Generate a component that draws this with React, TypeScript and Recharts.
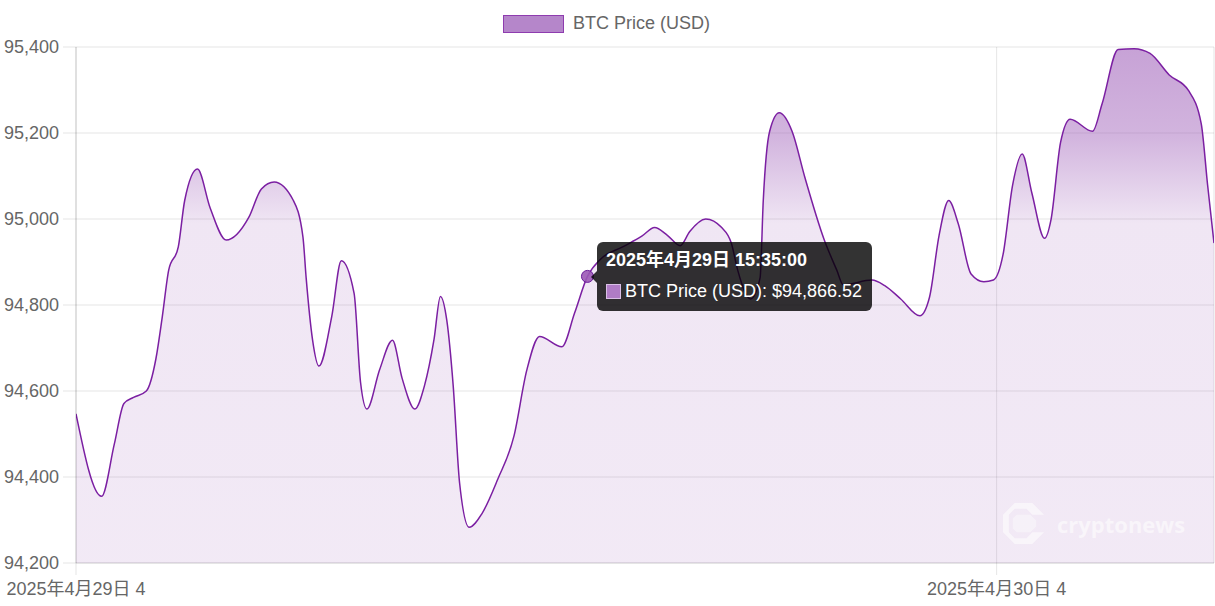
import React from 'react';
import { AreaChart, Area, XAxis, YAxis, CartesianGrid, Tooltip, Legend } from 'recharts';

// minutes since 2025-04-29 00:00
const minutes = [
  135, 175, 195, 210, 225, 245, 260, 270, 280, 295, 305, 325, 345, 370, 405, 425, 445, 475, 490, 495,
  505, 515, 535, 550, 570, 580, 590, 610, 630, 645, 665, 680, 695, 705, 715, 725, 735, 750, 770, 795,
  820, 840, 860, 895, 915, 935, 955, 990, 1020, 1040, 1060, 1080, 1095, 1120, 1145, 1160, 1170, 1190,
  1205, 1210, 1220, 1235, 1255, 1275, 1305, 1325, 1335, 1380, 1400, 1425, 1455, 1470, 1485, 1500, 1515,
  1535, 1555, 1570, 1585, 1600, 1615, 1630, 1650, 1660, 1675, 1690, 1725, 1740, 1765, 1790, 1815, 1845,
  1875, 1895, 1905, 1915,
];
const prices = [
  94547, 94355, 94477, 94571, 94585, 94600, 94675, 94773, 94881, 94935, 95043, 95116, 95025, 94951, 95003,
  95070, 95086, 95043, 94958, 94863, 94719, 94658, 94773, 94903, 94827, 94621, 94558, 94650, 94718, 94630,
  94558, 94612, 94720, 94820, 94764, 94612, 94386, 94283, 94315, 94396, 94495, 94648, 94727, 94703, 94782,
  94866.52, 94906, 94935, 94960, 94980, 94962, 94938, 94971, 95000, 94980, 94944, 94881, 94814, 94863, 95043,
  95204, 95247, 95204, 95097, 94953, 94881, 94847, 94858, 94845, 94814, 94775, 94818, 94962, 95043, 94989,
  94872, 94854, 94858, 94917, 95079, 95151, 95061, 94955, 94998, 95178, 95232, 95204, 95268, 95394, 95396,
  95385, 95335, 95299, 95222, 95079, 94944,
];
const yTicks = [94200, 94400, 94600, 94800, 95000, 95200, 95400];
const xTicks = [135, 1575];
const xTickLabels = ['2025年4月29日 4', '2025年4月30日 4'];
const seriesName = 'BTC Price (USD)';
const tooltipMinute = 935;

const data = minutes.map((t, i) => ({ t, price: prices[i] }));
const tooltipIndex = minutes.indexOf(tooltipMinute);

const FONT = '"Liberation Sans", Arial, Helvetica, "Noto Sans CJK SC", sans-serif';

const pad = (n: number) => (n < 10 ? '0' + n : '' + n);
const fmtTime = (t: number) => {
  const day = 29 + Math.floor(t / 1440);
  const m = t % 1440;
  return `2025年4月${day}日 ${pad(Math.floor(m / 60))}:${pad(m % 60)}:00`;
};

function TipContent(props: any) {
  const { active, payload } = props;
  if (!active || !payload || !payload.length) return null;
  const p = payload[0].payload;
  const val = '$' + p.price.toLocaleString('en-US', { minimumFractionDigits: 2, maximumFractionDigits: 2 });
  return (
    <div
      style={{
        position: 'relative',
        background: 'rgba(0,0,0,0.8)',
        borderRadius: 6,
        padding: '8px 10px 10px 9px',
        color: '#fff',
        fontFamily: FONT,
        fontSize: 18,
        whiteSpace: 'nowrap',
        lineHeight: '20px',
      }}
    >
      <div
        style={{
          position: 'absolute',
          left: -6,
          top: 'calc(50% - 6px)',
          width: 0,
          height: 0,
          borderTop: '6px solid transparent',
          borderBottom: '6px solid transparent',
          borderRight: '6px solid rgba(0,0,0,0.8)',
        }}
      />
      <div style={{ fontWeight: 'bold', marginBottom: 11 }}>{fmtTime(p.t)}</div>
      <div style={{ display: 'flex', alignItems: 'center' }}>
        <span
          style={{
            display: 'inline-block',
            width: 13,
            height: 13,
            background: '#b07cc6',
            border: '1.5px solid #d9bfe6',
            marginRight: 4,
          }}
        />
        <span>{`${seriesName}: ${val}`}</span>
      </div>
    </div>
  );
}

function LegendContent() {
  return (
    <div style={{ height: 40, paddingTop: 7, boxSizing: 'border-box', display: 'flex', justifyContent: 'center' }}>
      <div style={{ display: 'flex', alignItems: 'center', height: 19, marginRight: 1 }}>
        <span
          style={{
            display: 'inline-block',
            width: 59,
            height: 16,
            background: '#b586ca',
            border: '1.5px solid #8e3caf',
          }}
        />
        <span style={{ marginLeft: 9, fontSize: 18, color: '#666', fontFamily: FONT }}>{seriesName}</span>
      </div>
    </div>
  );
}

export default function App() {
  return (
    <div style={{ position: 'absolute', left: 0, top: 0, width: 1215, height: 606, fontFamily: FONT, background: '#fff' }}>
      <AreaChart width={1215} height={606} data={data} margin={{ top: 7, right: 1, bottom: 0, left: 0 }}>
        <defs>
          <linearGradient id="btcFill" x1="0" y1="0" x2="0" y2="1">
            <stop offset="0" stopColor="rgb(155,89,182)" stopOpacity={0.56} />
            <stop offset="0.17" stopColor="rgb(155,89,182)" stopOpacity={0.45} />
            <stop offset="0.34" stopColor="rgb(155,89,182)" stopOpacity={0.15} />
            <stop offset="1" stopColor="rgb(155,89,182)" stopOpacity={0.13} />
          </linearGradient>
        </defs>
        <Legend verticalAlign="top" align="center" content={<LegendContent />} />
        <CartesianGrid stroke="rgba(0,0,0,0.1)" strokeWidth={1} />
        <XAxis
          dataKey="t"
          type="number"
          domain={[135, 1915]}
          ticks={xTicks}
          tickFormatter={(v: number) => xTickLabels[xTicks.indexOf(v)]}
          interval={0}
          height={43}
          tickSize={12}
          tickMargin={7}
          axisLine={{ stroke: 'rgba(0,0,0,0.1)' }}
          tickLine={{ stroke: 'rgba(0,0,0,0.1)' }}
          tick={{ fill: '#666', fontSize: 18 }}
          allowDataOverflow
        />
        <YAxis
          type="number"
          domain={[94200, 95400]}
          ticks={yTicks}
          interval={0}
          width={76}
          tickSize={13}
          tickMargin={4}
          allowDataOverflow
          axisLine={{ stroke: 'rgba(0,0,0,0.15)' }}
          tickLine={{ stroke: 'rgba(0,0,0,0.1)' }}
          tick={{ fill: '#666', fontSize: 18 }}
          tickFormatter={(v: number) => v.toLocaleString('en-US')}
        />
        <Tooltip
          content={<TipContent />}
          active
          defaultIndex={tooltipIndex}
          position={{ x: 597, y: 242 }}
          cursor={false}
          isAnimationActive={false}
          allowEscapeViewBox={{ x: true, y: true }}
          wrapperStyle={{ outline: 'none' }}
        />
        <Area
          type="monotone"
          dataKey="price"
          name={seriesName}
          stroke="#7b1fa2"
          strokeWidth={1.5}
          fill="url(#btcFill)"
          fillOpacity={1}
          dot={false}
          activeDot={{ r: 6, fill: 'rgba(155,89,182,0.9)', stroke: '#6a1b9a', strokeWidth: 1 }}
          isAnimationActive={false}
          baseValue={94200}
        />
      </AreaChart>
      <div
        style={{
          position: 'absolute',
          left: 1003,
          top: 501,
          display: 'flex',
          alignItems: 'center',
          pointerEvents: 'none',
          opacity: 0.55,
        }}
      >
        <svg width="43" height="45" viewBox="0 0 44 46">
          <polygon points="12,2 30,2 42,14 30,14 24,8 12,8 6,14 6,32 12,38 24,38 30,32 42,32 30,44 12,44 0,32 0,14" fill="#fff" />
          <polygon points="14,14 28,14 34,20 34,26 28,32 14,32 10,28 10,18" fill="#fff" opacity={0.7} />
        </svg>
        <span style={{ marginLeft: 11, color: '#fff', fontWeight: 'bold', fontSize: 22, fontFamily: '"Open Sans", "Liberation Sans", sans-serif' }}>
          cryptonews
        </span>
      </div>
    </div>
  );
}
